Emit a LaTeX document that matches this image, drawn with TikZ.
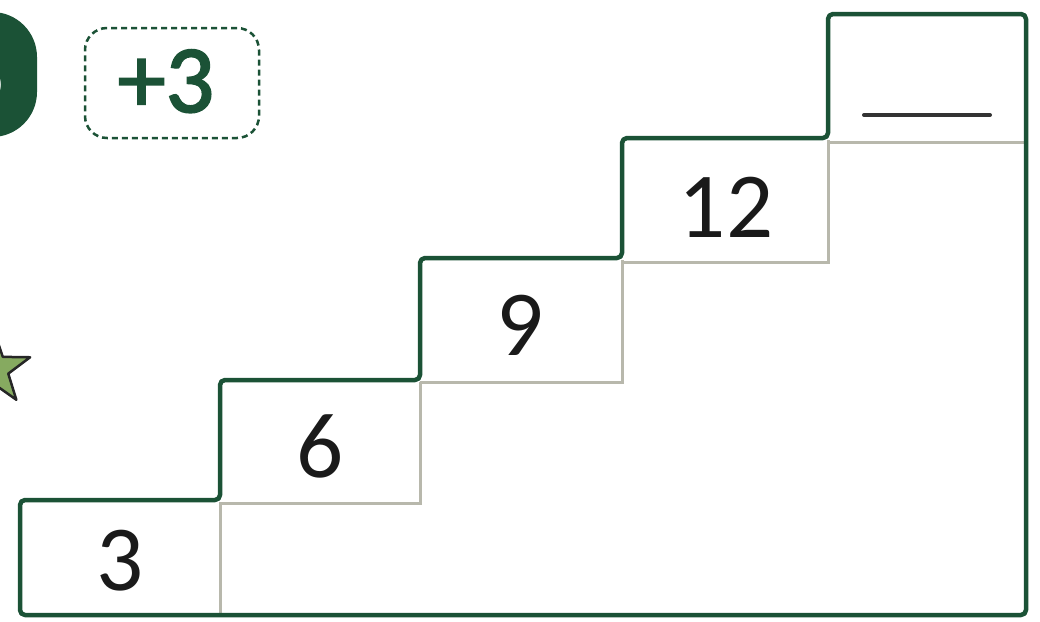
\documentclass[tikz,border=0pt]{standalone}
\usepackage{fontspec}
\setmainfont{Carlito}
\newfontfamily\medfont{Carlito}[FakeBold=2]
\definecolor{dkgreen}{HTML}{1B5236}
\definecolor{ltgrey}{HTML}{B8B8AC}
\definecolor{stargreen}{HTML}{86AA60}
\definecolor{txt}{HTML}{1A1A1A}
\tikzset{
  outline/.style={draw=dkgreen, line width=4.5pt, line join=round, rounded corners=5pt},
  inner/.style={draw=ltgrey, line width=3pt},
  num/.style={text=txt, font=\fontsize{93}{100}\selectfont, inner sep=0pt, anchor=base},
}
\begin{document}
\begin{tikzpicture}[x=1pt,y=-1pt]
\useasboundingbox (0,0) rectangle (1040,621);
% badge at left
\fill[dkgreen, rounded corners=45pt] (-90,12) rectangle (37,137);
\node[text=white, font=\bfseries\fontsize{96}{100}\selectfont, inner sep=0pt, anchor=base] (badge) at (-20,103) {8};
% +3 box
\node[draw=dkgreen, dashed, dash pattern=on 6pt off 4pt, line width=2.5pt, rounded corners=22pt,
      minimum width=174pt, minimum height=110pt] (plus) at (172,83) {};
\node[text=dkgreen, font=\medfont\fontsize{96}{100}\selectfont, inner sep=0pt, anchor=base] (plustxt) at (166,112) {+3};
% star
\def\cx{-6}\def\cy{369}
\draw[fill=stargreen, draw=black!85, line width=2.5pt, line join=round]
  ({\cx+38*cos(90)},{\cy-38*sin(90)})
  -- ({\cx+15*cos(54)},{\cy-15*sin(54)})
  -- ({\cx+38*cos(18)},{\cy-38*sin(18)})
  -- ({\cx+15*cos(-18)},{\cy-15*sin(-18)})
  -- ({\cx+38*cos(-54)},{\cy-38*sin(-54)})
  -- ({\cx+15*cos(-90)},{\cy-15*sin(-90)})
  -- ({\cx+38*cos(-126)},{\cy-38*sin(-126)})
  -- ({\cx+15*cos(-162)},{\cy-15*sin(-162)})
  -- ({\cx+38*cos(162)},{\cy-38*sin(162)})
  -- ({\cx+15*cos(126)},{\cy-15*sin(126)}) -- cycle;
% inner grey lines
\draw[inner] (220,502) -- (220,613);
\draw[inner] (220,503) -- (420,503) -- (420,382);
\draw[inner] (420,382) -- (622,382) -- (622,260);
\draw[inner] (622,262) -- (828,262) -- (828,140);
\draw[inner] (828,142) -- (1024,142);
% outline
\draw[outline] (220,500) -- (20,500) -- (20,615) -- (1026,615) -- (1026,14) -- (828,14) -- (828,138) -- (622,138) -- (622,258) -- (420,258) -- (420,380) -- (220,380) -- cycle;
% numbers
\node[num] (n3) at (120,590) {3};
\node[num] (n6) at (320,477) {6};
\node[num] (n9) at (520,355) {9};
\node[num] (n12) at (726,237) {12};
\coordinate (b1) at (864,115);
\coordinate (b2) at (990,115);
\draw[draw=black!80, line width=4pt, line cap=round] (b1) -- (b2);
\end{tikzpicture}
\end{document}
